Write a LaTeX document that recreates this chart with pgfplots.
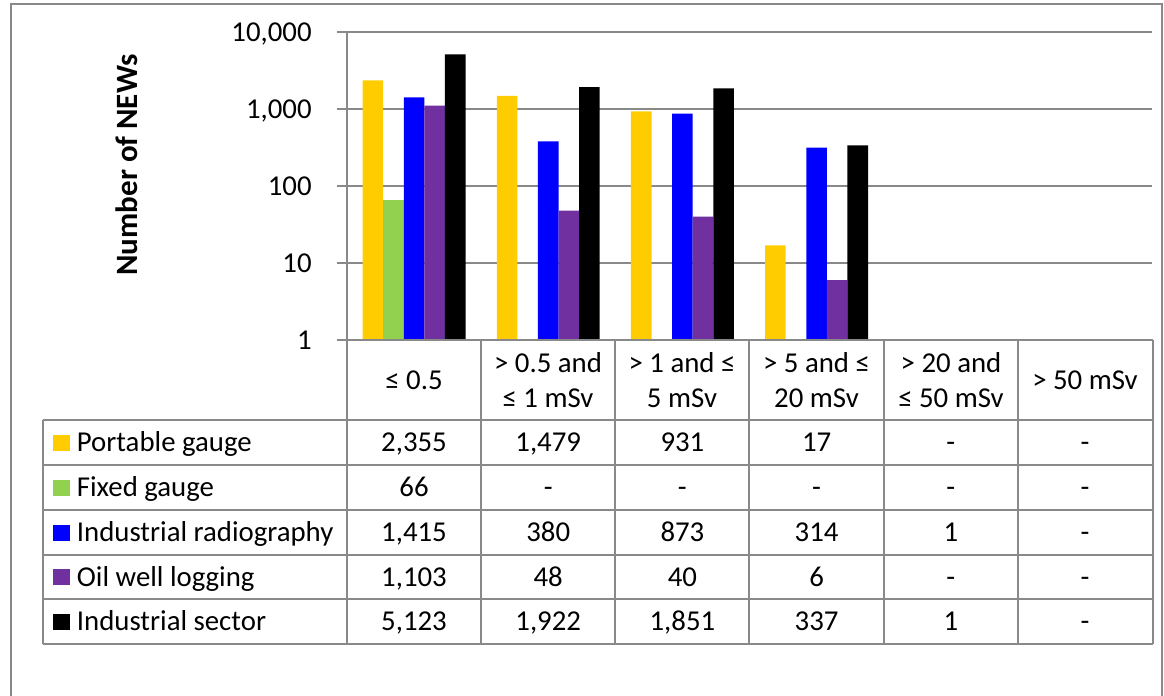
\documentclass[border=0pt]{standalone}
\usepackage{pgfplots}
\pgfplotsset{compat=1.18}
\usepackage{fontspec}
\setmainfont{Carlito}
\definecolor{gridgray}{HTML}{898989}
\definecolor{cYellow}{HTML}{FFCC00}
\definecolor{cGreen}{HTML}{92D050}
\definecolor{cBlue}{HTML}{0000FF}
\definecolor{cPurple}{HTML}{7030A0}
\definecolor{cBlack}{HTML}{000000}
\newcommand{\tf}{\fontsize{14.4}{17.5}\selectfont}
\begin{document}
\begin{tikzpicture}
\useasboundingbox (0pt,0pt) rectangle (582pt,-348pt);
\begin{axis}[
  at={(173.5pt,-170pt)}, anchor=south west,
  width=402.5pt, height=154pt, scale only axis,
  xmin=-0.5, xmax=5.5,
  ymode=log, ymin=1, ymax=10000,
  axis lines*=left,
  axis line style={-, draw=gridgray, line width=1pt},
  xtick=\empty,
  ytick={1,10,100,1000,10000},
  yticklabels={1,10,100,{1,000},{10,000}},
  ytick pos=left, tick align=outside,
  major tick length=5pt,
  tick style={draw=gridgray, line width=1pt},
  yminorticks=false,
  yticklabel style={font=\tf, inner sep=0pt, anchor=east, xshift=-12.5pt, text height=9.2pt, text depth=0pt},
  ymajorgrids, grid style={draw=gridgray, line width=1pt},
  ybar, bar width=0.1535,
  clip=false,
]
\addplot[draw=none, fill=cYellow, bar shift=-0.307] coordinates {(0,2355) (1,1479) (2,931) (3,17)};
\addplot[draw=none, fill=cGreen, bar shift=-0.1535] coordinates {(0,66)};
\addplot[draw=none, fill=cBlue, bar shift=0] coordinates {(0,1415) (1,380) (2,873) (3,314) (4,1)};
\addplot[draw=none, fill=cPurple, bar shift=0.1535] coordinates {(0,1103) (1,48) (2,40) (3,6)};
\addplot[draw=none, fill=cBlack, bar shift=0.307] coordinates {(0,5123) (1,1922) (2,1851) (3,337) (4,1)};
\end{axis}
\begin{scope}[x=0.5pt, y=-0.5pt]
  % outer frame
  \draw[gridgray, line width=1pt] (11,720) -- (11,4) -- (1161.5,4) -- (1161.5,720);
  % y axis title
  \node[rotate=90, font=\fontsize{15.5}{18}\selectfont\bfseries] at (127,165) {Number of NEWs};
  % table grid
  \begin{scope}[gridgray, line width=1pt]
    \draw (347,340) -- (1152.5,340);
    \foreach \y in {420,465,510,555,599,644} \draw (43,\y) -- (1152.5,\y);
    \draw (43,420) -- (43,644);
    \foreach \x in {347,481,615,749,884,1018,1152.5} \draw (\x,340) -- (\x,644);
  \end{scope}
  % header
  \begin{scope}[every node/.style={font=\tf, align=center, inner sep=0pt}]
    \node[text height=9.2pt, text depth=0pt] at (414,380) {≤ 0.5};
    \node at (548,380) {> 0.5 and\\≤ 1 mSv};
    \node at (682,380) {> 1 and ≤\\5 mSv};
    \node at (816.5,380) {> 5 and ≤\\20 mSv};
    \node at (951,380) {> 20 and\\≤ 50 mSv};
    \node[text height=9.2pt, text depth=0pt] at (1085,380) {> 50 mSv};
  \end{scope}
  % legend column
  \begin{scope}[every node/.style={font=\tf, anchor=west, inner sep=0pt, text height=9.2pt, text depth=0pt}]
    \fill[cYellow] (53,434.5) rectangle (70,450.5); \node at (76.5,442.5) {Portable gauge};
    \fill[cGreen]  (53,479.5) rectangle (70,495.5); \node at (76.5,487.5) {Fixed gauge};
    \fill[cBlue]   (53,524.5) rectangle (70,540.5); \node at (76.5,532.5) {Industrial radiography};
    \fill[cPurple] (53,569) rectangle (70,585); \node at (76.5,577) {Oil well logging};
    \fill[cBlack]  (53,613.5) rectangle (70,629.5); \node at (76.5,621.5) {Industrial sector};
  \end{scope}
  % values
  \begin{scope}[every node/.style={font=\tf, inner sep=0pt, text height=9.2pt, text depth=0pt}]
    \foreach \v [count=\i from 0] in {{2,355},{1,479},931,17,-,-} \node at (414+134.2*\i,442.5) {\v};
    \foreach \v [count=\i from 0] in {66,-,-,-,-,-} \node at (414+134.2*\i,487.5) {\v};
    \foreach \v [count=\i from 0] in {{1,415},380,873,314,1,-} \node at (414+134.2*\i,532.5) {\v};
    \foreach \v [count=\i from 0] in {{1,103},48,40,6,-,-} \node at (414+134.2*\i,577) {\v};
    \foreach \v [count=\i from 0] in {{5,123},{1,922},{1,851},337,1,-} \node at (414+134.2*\i,621.5) {\v};
  \end{scope}
\end{scope}
\end{tikzpicture}
\end{document}
